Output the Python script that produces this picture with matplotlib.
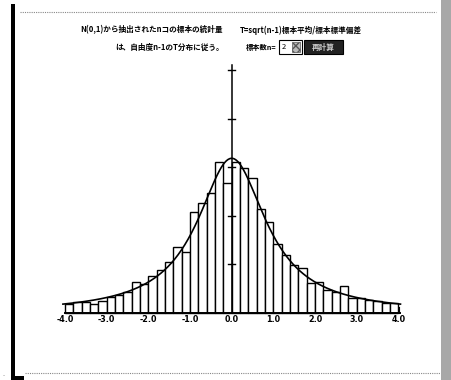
import numpy as np
import matplotlib
matplotlib.use("Agg")
import matplotlib.pyplot as plt
from matplotlib.patches import Rectangle

plt.rcParams['font.family'] = ['Noto Sans CJK JP', 'DejaVu Sans']

# ---- data ----
bin_start = -4.0
bin_width = 0.2
densities = [0.018, 0.022, 0.023, 0.0185, 0.024, 0.032, 0.037, 0.044, 0.063, 0.060,
             0.076, 0.089, 0.105, 0.136, 0.126, 0.208, 0.226, 0.246, 0.311, 0.267,
             0.310, 0.298, 0.277, 0.215, 0.188, 0.143, 0.119, 0.099, 0.093, 0.061,
             0.064, 0.047, 0.044, 0.056, 0.031, 0.031, 0.027, 0.025, 0.020, 0.021]
x_tick_values = [-4, -3, -2, -1, 0, 1, 2, 3, 4]
x_tick_labels = ["-4.0", "-3.0", "-2.0", "-1.0", "0.0", "1.0", "2.0", "3.0", "4.0"]
y_tick_values = [0.1, 0.2, 0.3, 0.4, 0.5]
sample_n = 2
title_line1a = "N(0,1)から抽出されたnコの標本の統計量"
title_line1b = "T=sqrt(n-1)標本平均/標本標準偏差"
title_line2 = "は、自由度n-1のT分布に従う。"
n_label = "標本数n="
button_label = "再計算"

W, H = 451, 380
fig = plt.figure(figsize=(W / 100, H / 100), dpi=100)

# background axes in pixel coords for window decorations and texts
bg = fig.add_axes([0, 0, 1, 1])
bg.set_xlim(0, W)
bg.set_ylim(H, 0)
bg.axis('off')
bg.add_patch(Rectangle((10.5, 4), 4, 376, color='black', lw=0))
bg.plot([20, 436], [12, 12], color='#888888', lw=0.8, ls=(0, (1, 1)))
bg.plot([25, 440], [373, 373], color='#888888', lw=0.8, ls=(0, (1, 1)))
bg.add_patch(Rectangle((441, 0), 10, H, facecolor='#a8a8a8', edgecolor='none', lw=0))
bg.add_patch(Rectangle((15, 376), 9, 4, color='black', lw=0))
bg.text(3, 374, "..", fontsize=4, color='#777777', va='center')

fs = 5.5
bg.text(80, 30, title_line1a, fontsize=fs, fontweight='bold', va='center', ha='left')
bg.text(240, 30, title_line1b, fontsize=fs, fontweight='bold', va='center', ha='left')
bg.text(115, 47, title_line2, fontsize=fs, fontweight='bold', va='center', ha='left')
bg.text(246, 47, n_label, fontsize=5.2, fontweight='bold', va='center', ha='left')
# combo box
bg.add_patch(Rectangle((279, 40), 23, 14, facecolor='white', edgecolor='black', lw=0.8))
bg.text(282, 47, str(sample_n), fontsize=fs, va='center', ha='left')
bg.add_patch(Rectangle((292, 42), 8, 10, facecolor='#bbbbbb', edgecolor='#555555',
                       hatch='xxxx', lw=0.5))
# button
bg.add_patch(Rectangle((304, 40), 39, 14, facecolor='#222222', edgecolor='black', lw=0.8))
bg.text(323.5, 47, button_label, fontsize=fs, fontweight='bold', color='#cccccc',
        va='center', ha='center')

# main plot axes
left_px, right_px = 52.5, 410.9
top_px, base_px = 60.3, 313.0
ax = fig.add_axes([left_px / W, (H - base_px) / H,
                   (right_px - left_px) / W, (base_px - top_px) / H])
ax.set_xlim(-4.3, 4.3)
ax.set_ylim(0, 0.52)
ax.axis('off')

lefts = bin_start + bin_width * np.arange(len(densities))
ax.bar(lefts, densities, width=bin_width, align='edge', facecolor='white',
       edgecolor='black', lw=1.0, clip_on=False, zorder=2)

# theoretical t density with df = n-1
df = sample_n - 1
xs = np.linspace(-4.05, 4.05, 400)
from math import gamma, pi, sqrt
c = gamma((df + 1) / 2) / (sqrt(df * pi) * gamma(df / 2))
pdf = c * (1 + xs ** 2 / df) ** (-(df + 1) / 2)
ax.plot(xs, pdf, color='black', lw=1.2, zorder=4, clip_on=False)

# axes lines
ax.plot([-4.0, 4.05], [0, 0], color='black', lw=1.4, zorder=5, clip_on=False)
ax.plot([0, 0], [0, 0.51], color='black', lw=1.1, zorder=5, clip_on=False)
for yv in y_tick_values:
    ax.plot([-0.08, 0.08], [yv, yv], color='black', lw=1.0, zorder=5)
ax.plot([4.02, 4.02], [0, 0.012], color='black', lw=0.8, zorder=5, clip_on=False)
for xv, lab in zip(x_tick_values, x_tick_labels):
    ax.text(xv, -0.004, lab, fontsize=5.8, fontweight='bold', ha='center', va='top',
            family=['DejaVu Sans'])

fig.savefig("out.png", dpi=100)
